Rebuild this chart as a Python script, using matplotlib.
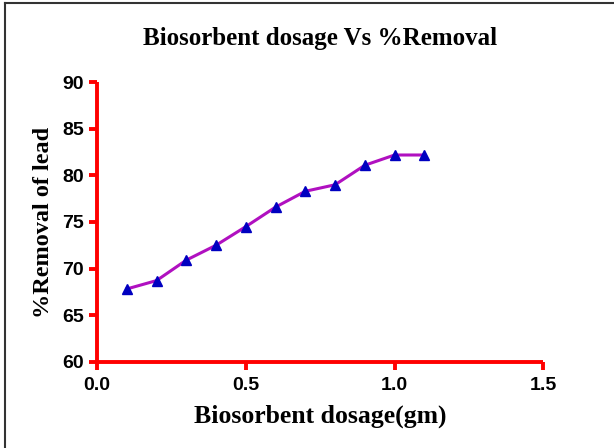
import matplotlib
matplotlib.use('Agg')
import matplotlib.pyplot as plt
from matplotlib.lines import Line2D

# data
dosage = [0.1, 0.2, 0.3, 0.4, 0.5, 0.6, 0.7, 0.8, 0.9, 1.0, 1.1]
removal = [67.8, 68.7, 70.9, 72.5, 74.5, 76.6, 78.3, 79.0, 81.1, 82.2, 82.2]
xticks = [0.0, 0.5, 1.0, 1.5]
yticks = [60, 65, 70, 75, 80, 85, 90]

fig = plt.figure(figsize=(6.14, 4.48), dpi=100)
ax = fig.add_axes([0.158, 0.193, 0.727, 0.623])

ax.plot(dosage, removal, color='#B010C0', lw=2.2, zorder=2)
ax.plot(dosage, removal, ls='none', marker='^', ms=7, color='#0000C0', zorder=3)

ax.set_xlim(0, 1.5)
ax.set_ylim(60, 90)
ax.set_xticks(xticks)
ax.set_yticks(yticks)
ax.set_xticklabels(['%.1f' % v for v in xticks])

for side in ['top', 'right']:
    ax.spines[side].set_visible(False)
for side in ['left', 'bottom']:
    ax.spines[side].set_color('red')
    ax.spines[side].set_linewidth(2.8)
    ax.spines[side].set_capstyle('butt')

ax.tick_params(axis='both', colors='red', width=2.8, length=6, direction='out')
ax.tick_params(axis='x', pad=5)
for lab in ax.get_xticklabels() + ax.get_yticklabels():
    lab.set_color('black')
    lab.set_fontfamily('Liberation Sans')
    lab.set_fontweight('bold')
    lab.set_fontsize(14)

ax.set_xlabel('Biosorbent dosage(gm)', family='Liberation Serif', weight='bold',
              fontsize=18.5, labelpad=8)
ax.set_ylabel('%Removal of lead', family='Liberation Serif', weight='bold',
              fontsize=17.5, labelpad=6)
fig.text(0.521, 0.913, 'Biosorbent dosage Vs %Removal', family='Liberation Serif',
         weight='bold', fontsize=18, ha='center', va='center')

# frame of the original picture, only left and top are visible
fig.add_artist(Line2D([0.008, 0.008], [0, 0.993], transform=fig.transFigure,
                      color='#333333', lw=1.5))
fig.add_artist(Line2D([0.008, 1.0], [0.993, 0.993], transform=fig.transFigure,
                      color='#333333', lw=1.5))

fig.savefig('out.png', dpi=100)
